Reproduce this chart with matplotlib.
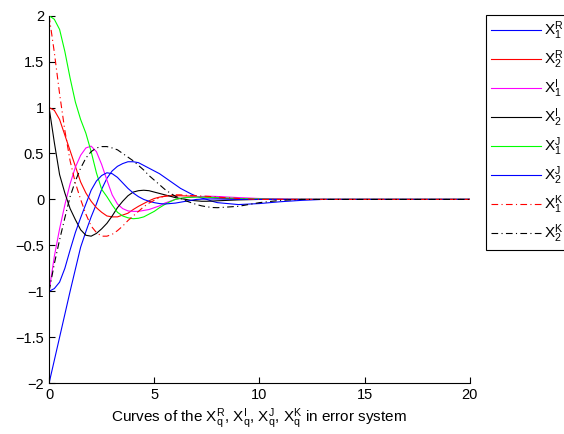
import matplotlib
matplotlib.use('Agg')
import matplotlib.pyplot as plt

plt.rcParams['font.family'] = ['Liberation Sans', 'DejaVu Sans']
plt.rcParams['mathtext.fontset'] = 'custom'
plt.rcParams['mathtext.rm'] = 'Liberation Sans'
plt.rcParams['mathtext.it'] = 'Liberation Sans'

# time samples (s)
t = [0, 0.25, 0.5, 0.75, 1, 1.25, 1.5, 1.75, 2, 2.25, 2.5, 2.75, 3, 3.25, 3.5, 3.75,
     4, 4.25, 4.5, 4.75, 5, 5.25, 5.5, 5.75, 6, 6.25, 6.5, 6.75, 7, 7.25, 7.5, 7.75,
     8, 9, 10, 11, 12, 13, 14, 16, 18, 20]

x1R = [-2.0, -1.75, -1.5, -1.25, -1.0, -0.76, -0.52, -0.35, -0.19, -0.05, 0.11, 0.23,
       0.31, 0.36, 0.39, 0.41, 0.41, 0.40, 0.37, 0.34, 0.31, 0.28, 0.24, 0.20, 0.16,
       0.12, 0.09, 0.06, 0.035, 0.015, 0.0, -0.02, -0.035, -0.056, -0.045, -0.025,
       -0.01, 0, 0, 0, 0, 0]
x2R = [1.0, 0.97, 0.87, 0.7, 0.53, 0.36, 0.19, 0.07, -0.02, -0.09, -0.14, -0.18,
       -0.19, -0.19, -0.17, -0.15, -0.11, -0.075, -0.045, -0.015, 0.01, 0.025, 0.035,
       0.04, 0.04, 0.04, 0.038, 0.035, 0.032, 0.028, 0.025, 0.02, 0.015, 0.005, 0,
       0, 0, 0, 0, 0, 0, 0]
x1I = [-1.0, -0.62, -0.32, -0.06, 0.17, 0.35, 0.48, 0.56, 0.58, 0.52, 0.38, 0.21,
       0.05, -0.05, -0.1, -0.125, -0.13, -0.13, -0.12, -0.11, -0.09, -0.07, -0.04,
       -0.02, 0.0, 0.01, 0.02, 0.025, 0.03, 0.032, 0.034, 0.034, 0.032, 0.02, 0.01,
       0.005, 0, 0, 0, 0, 0, 0]
x2I = [1.0, 0.62, 0.27, 0.07, -0.1, -0.22, -0.33, -0.39, -0.40, -0.37, -0.32, -0.26,
       -0.18, -0.09, -0.02, 0.04, 0.08, 0.095, 0.10, 0.095, 0.08, 0.065, 0.05, 0.035,
       0.02, 0.01, 0.0, -0.01, -0.015, -0.02, -0.02, -0.018, -0.015, -0.005, 0, 0, 0,
       0, 0, 0, 0, 0]
x1J = [2.0, 1.96, 1.85, 1.61, 1.32, 1.06, 0.87, 0.72, 0.52, 0.29, 0.11, 0.03, -0.06,
       -0.14, -0.18, -0.2, -0.21, -0.205, -0.19, -0.16, -0.13, -0.09, -0.055, -0.025,
       0.0, 0.012, 0.02, 0.023, 0.025, 0.025, 0.025, 0.022, 0.02, 0.01, 0.005, 0, 0,
       0, 0, 0, 0, 0]
x2J = [-1.0, -0.97, -0.9, -0.75, -0.55, -0.36, -0.2, -0.05, 0.1, 0.2, 0.26, 0.29,
       0.28, 0.24, 0.18, 0.12, 0.07, 0.03, 0.0, -0.02, -0.035, -0.045, -0.05, -0.045,
       -0.04, -0.03, -0.02, -0.01, 0.0, 0.003, 0.005, 0.005, 0.005, 0, 0, 0, 0, 0, 0,
       0, 0, 0]
x1K = [2.0, 1.6, 1.15, 0.75, 0.42, 0.18, 0.0, -0.16, -0.29, -0.36, -0.40, -0.40,
       -0.38, -0.34, -0.29, -0.23, -0.18, -0.13, -0.08, -0.04, -0.01, 0.02, 0.035,
       0.045, 0.05, 0.05, 0.045, 0.042, 0.04, 0.037, 0.034, 0.03, 0.025, 0.01, 0, 0,
       0, 0, 0, 0, 0, 0]
x2K = [-1.0, -0.7, -0.44, -0.2, 0.03, 0.2, 0.34, 0.45, 0.52, 0.56, 0.575, 0.575,
       0.56, 0.54, 0.5, 0.46, 0.42, 0.37, 0.32, 0.26, 0.21, 0.16, 0.11, 0.07, 0.035,
       0.01, -0.015, -0.035, -0.055, -0.07, -0.08, -0.088, -0.09, -0.075, -0.035,
       -0.01, 0, 0, 0, 0, 0, 0]

fig = plt.figure(figsize=(5.64, 4.34), dpi=100)
ax = fig.add_axes([0.087, 0.117, 0.746, 0.847])

lw = 0.8
ax.plot(t, x1R, color='blue', lw=lw, label=r'$\mathregular{X_1^R}$')
ax.plot(t, x2R, color='red', lw=lw, label=r'$\mathregular{X_2^R}$')
ax.plot(t, x1I, color='magenta', lw=lw, label=r'$\mathregular{X_1^I}$')
ax.plot(t, x2I, color='black', lw=lw, label=r'$\mathregular{X_2^I}$')
ax.plot(t, x1J, color='#00ff00', lw=lw, label=r'$\mathregular{X_1^J}$')
ax.plot(t, x2J, color='blue', lw=lw, label=r'$\mathregular{X_2^J}$')
ax.plot(t, x1K, color='red', lw=lw, ls=(0, (6, 3, 1, 3)), label=r'$\mathregular{X_1^K}$')
ax.plot(t, x2K, color='black', lw=lw, ls=(0, (6, 3, 1, 3)), label=r'$\mathregular{X_2^K}$')

ax.set_xlim(0, 20)
ax.set_ylim(-2, 2)
ax.set_xticks([0, 5, 10, 15, 20])
ax.set_yticks([-2, -1.5, -1, -0.5, 0, 0.5, 1, 1.5, 2])
ax.set_yticklabels(['\u22122', '\u22121.5', '\u22121', '\u22120.5', '0', '0.5', '1', '1.5', '2'])
ax.tick_params(direction='in', length=4, labelsize=10.5, top=False, right=False)
ax.spines['top'].set_visible(False)
ax.spines['right'].set_visible(False)
ax.set_xlabel(r'Curves of the $\mathregular{X_q^R}$, $\mathregular{X_q^I}$, '
              r'$\mathregular{X_q^J}$, $\mathregular{X_q^K}$ in error system', fontsize=11,
              labelpad=3)

# legend sits outside the axes and runs off the right edge, as in the source figure
leg = ax.legend(loc='upper left', bbox_to_anchor=(0.862, 0.965), bbox_transform=fig.transFigure,
                fontsize=11, handlelength=3.3, handletextpad=0.2, labelspacing=0.42,
                borderpad=0.3, borderaxespad=0,
                fancybox=False, framealpha=1, edgecolor='black')
leg.get_frame().set_linewidth(0.8)

fig.savefig('out.png', dpi=100)
